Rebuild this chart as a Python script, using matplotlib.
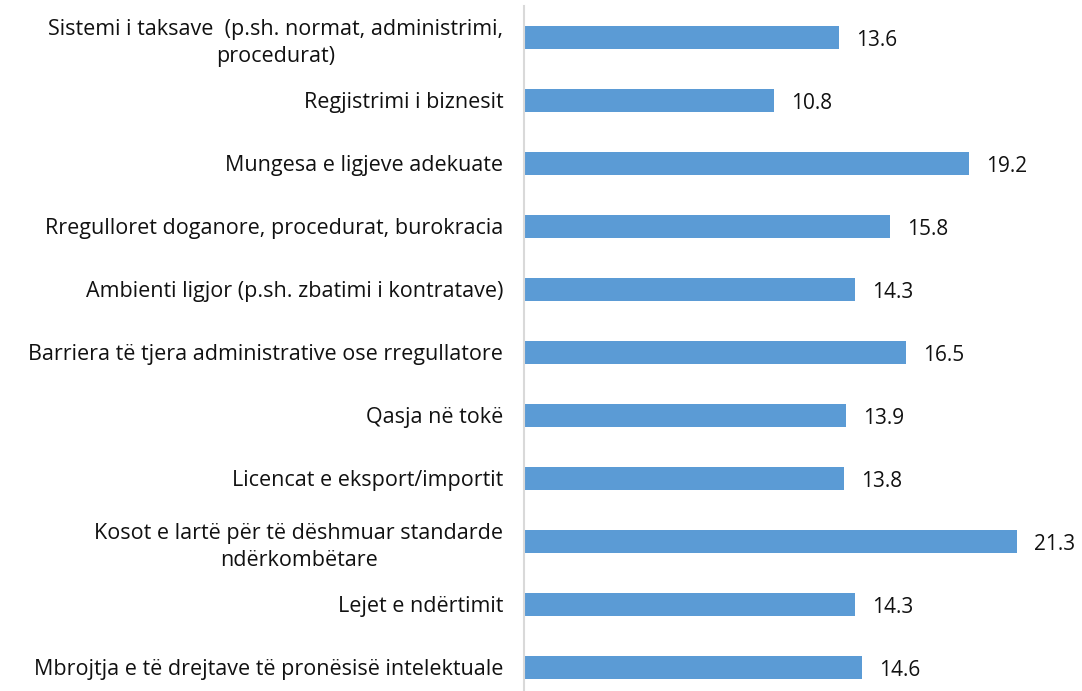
import matplotlib
matplotlib.use("Agg")
import matplotlib.pyplot as plt

categories = [
    "Sistemi i taksave  (p.sh. normat, administrimi,\nprocedurat)",
    "Regjistrimi i biznesit",
    "Mungesa e ligjeve adekuate",
    "Rregulloret doganore, procedurat, burokracia",
    "Ambienti ligjor (p.sh. zbatimi i kontratave)",
    "Barriera të tjera administrative ose rregullatore",
    "Qasja në tokë",
    "Licencat e eksport/importit",
    "Kosot e lartë për të dëshmuar standarde\nndërkombëtare",
    "Lejet e ndërtimit",
    "Mbrojtja e të drejtave të pronësisë intelektuale",
]
values = [13.6, 10.8, 19.2, 15.8, 14.3, 16.5, 13.9, 13.8, 21.3, 14.3, 14.6]

plt.rcParams['font.family'] = ['Open Sans', 'DejaVu Sans']

W, H = 1082, 691
fig = plt.figure(figsize=(W / 100, H / 100), dpi=100)
left = 524 / W
right = 1080 / W
top_px = 6
bot_px = 6 + 11 * 63
ax = fig.add_axes([left, 1 - bot_px / H, right - left, (bot_px - top_px) / H])

n = len(categories)
ypos = list(range(n))
ax.barh(ypos, values, height=0.365, color="#5B9BD5")
ax.set_ylim(n - 0.5, -0.5)
ax.set_xlim(0, 24)

ax.set_yticks(ypos)
ax.set_yticklabels(categories, fontsize=15.5, color="#111111", multialignment="center",
                   linespacing=1.35)
ax.tick_params(axis="y", length=0, pad=15)
ax.set_xticks([])
for s in ["top", "right", "bottom"]:
    ax.spines[s].set_visible(False)
ax.spines["left"].set_color("#D9D9D9")
ax.spines["left"].set_linewidth(1.5)

for y, v in zip(ypos, values):
    ax.annotate(f"{v:.1f}", (v, y), xytext=(17, -3), textcoords="offset pixels",
                va="center", ha="left", fontsize=15, color="#111111")

fig.savefig("out.png", dpi=100)
